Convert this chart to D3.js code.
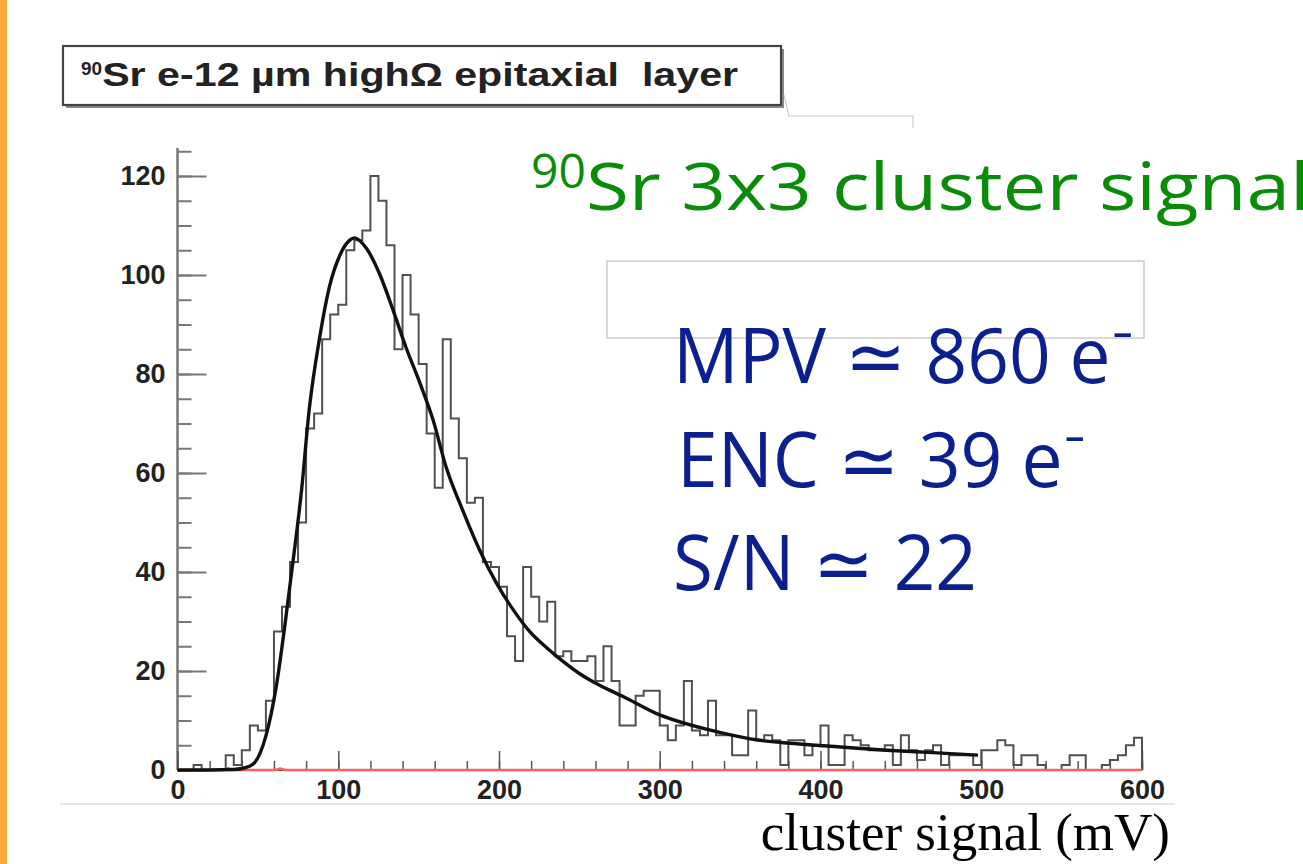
<!DOCTYPE html>
<html>
<head>
  <meta charset="utf-8">
  <style>
    body { margin: 0; background: #fff; }
    svg { display: block; }
    .tick text { font-family: "Liberation Sans", Arial, sans-serif; font-weight: bold; fill: #222; }
  </style>
</head>
<body>
  <script src="https://d3js.org/d3.v7.min.js"></script>
  <script>
    // cluster signal histogram, 5 mV bins from 0 to 600 mV (counts)
    const binWidth = 5;
    const counts = [
      0, 0, 1, 0, 0, 0, 3, 1, 4, 9,
      8, 14, 28, 33, 42, 50, 69, 72, 87, 92,
      94, 105, 107, 109, 120, 115, 106, 85, 100, 92,
      82, 68, 57, 87, 71, 63, 54, 55, 42, 41,
      37, 27, 22, 41, 35, 30, 34, 23, 24, 22,
      22, 23, 18, 25, 18, 9, 9, 15, 16, 16,
      9, 6, 9, 18, 8, 7, 14, 7, 7, 3,
      3, 12, 6, 7, 6, 1, 6, 6, 3, 5,
      9, 1, 1, 7, 6, 5, 4, 4, 5, 1,
      7, 4, 2, 4, 5, 1, 3, 3, 3, 1,
      4, 4, 6, 5, 1, 3, 3, 1, 0, 0,
      1, 3, 3, 0, 0, 1, 2, 3, 5, 6.5
    ];

    // fitted curve, points: [mV, counts]
    const fitPoints = [
      [0, 0], [20, 0], [35, 0.1], [40, 0.3], [47, 1.2], [55, 6.9], [61.5, 17],
      [66.7, 29], [71.8, 42], [77, 56], [82, 73], [88.5, 87.5], [94.5, 97.6],
      [101, 104], [107, 107], [110, 107.5], [117.5, 105.4], [126, 100], [134, 93],
      [142, 85.5], [151, 78], [159, 70.7], [167, 61.3], [178, 52], [188, 44.4],
      [198.5, 37.7], [209, 32.3], [219, 28], [230, 24.6], [240, 21.9], [250, 19.5],
      [262, 17.2], [277.5, 14.8], [298, 11.4], [319, 9.1], [340, 7.4], [360, 6.1],
      [381, 5.4], [402, 4.9], [423, 4.4], [441, 4.0], [470, 3.5], [498, 3.0]
    ];

    // second (red) function, flat at zero
    const redPoints = [[0, 0], [28, 0], [31, 0.4], [34, 0], [61, 0], [64, 0.3], [67, 0], [600, 0]];

    const xTicks = [0, 100, 200, 300, 400, 500, 600];
    const yTicks = [0, 20, 40, 60, 80, 100, 120];

    const w = 1303;
    const h = 864;

    const xScale = d3.scaleLinear().domain([0, 600]).range([177.5, 1142]);
    const yScale = d3.scaleLinear().domain([0, 120]).range([770, 176]);

    const svg = d3.select("body").append("svg")
      .attr("width", w)
      .attr("height", h);

    svg.append("rect").attr("width", w).attr("height", h).attr("fill", "#fff");

    // orange slide edge
    svg.append("rect").attr("x", 0).attr("y", 0).attr("width", 7).attr("height", h).attr("fill", "#f8ab3c");

    // title box with shadow
    svg.append("rect")
      .attr("x", 66).attr("y", 49).attr("width", 718).attr("height", 59)
      .attr("fill", "#888");
    svg.append("rect")
      .attr("x", 63).attr("y", 46).attr("width", 718).attr("height", 59)
      .attr("fill", "#fff").attr("stroke", "#444").attr("stroke-width", 2.2);
    const title = svg.append("text")
      .attr("x", 81).attr("y", 86)
      .style("font-family", "'Liberation Sans', Arial, sans-serif")
      .style("font-weight", "bold")
      .style("white-space", "pre")
      .attr("fill", "#222");
    title.append("tspan").attr("font-size", 19).attr("dy", -11).text("90");
    title.append("tspan").attr("font-size", 33).attr("dy", 11)
      .attr("textLength", 636).attr("lengthAdjust", "spacingAndGlyphs")
      .text("Sr e-12 \u00b5m high\u03a9 epitaxial  layer");

    // faint stats-box remnant
    svg.append("path")
      .attr("d", "M784,95 L789,116 L913,116 L913,128")
      .attr("fill", "none").attr("stroke", "#ccc").attr("stroke-width", 1.2);

    // grey line under axis labels
    svg.append("line")
      .attr("x1", 60).attr("x2", 1175).attr("y1", 804).attr("y2", 804)
      .attr("stroke", "#ddd").attr("stroke-width", 1.5);

    // y axis: minor ticks then major ticks, all inside
    const yMinor = d3.range(0, 126, 5);
    svg.append("g")
      .attr("transform", "translate(" + xScale(0) + ",0)")
      .call(d3.axisLeft(yScale).tickValues(yMinor).tickSizeInner(-14).tickSizeOuter(0).tickFormat(""))
      .call(g => g.select(".domain").remove())
      .selectAll("line").attr("stroke", "#777").attr("stroke-width", 2);

    const yAxis = svg.append("g")
      .attr("transform", "translate(" + xScale(0) + ",0)")
      .call(d3.axisLeft(yScale).tickValues(yTicks).tickSizeInner(-29).tickSizeOuter(0).tickPadding(12));
    yAxis.selectAll(".tick line").attr("stroke", "#777").attr("stroke-width", 2);
    yAxis.select(".domain").remove();
    yAxis.selectAll("text").attr("font-size", 27);
    svg.append("line")
      .attr("x1", xScale(0)).attr("x2", xScale(0))
      .attr("y1", yScale(0)).attr("y2", 148)
      .attr("stroke", "#777").attr("stroke-width", 2.5);

    // x axis: ticks pointing up
    const xMinor = d3.range(0, 601, 20);
    svg.append("g")
      .attr("transform", "translate(0," + yScale(0) + ")")
      .call(d3.axisBottom(xScale).tickValues(xMinor).tickSizeInner(-9).tickSizeOuter(0).tickFormat(""))
      .call(g => g.select(".domain").remove())
      .selectAll("line").attr("stroke", "#555").attr("stroke-width", 1.5);

    const xAxis = svg.append("g")
      .attr("transform", "translate(0," + yScale(0) + ")")
      .call(d3.axisBottom(xScale).tickValues(xTicks).tickSizeInner(-19).tickSizeOuter(0).tickPadding(10));
    xAxis.selectAll(".tick line").attr("stroke", "#555").attr("stroke-width", 1.5);
    xAxis.select(".domain").attr("stroke", "#555");
    xAxis.selectAll("text").attr("font-size", 27);

    // histogram outline
    const histPts = counts.map((c, i) => [i * binWidth, c]);
    histPts.push([600, counts[counts.length - 1]]);
    histPts.push([600, 0]);
    svg.append("path")
      .datum(histPts)
      .attr("fill", "none")
      .attr("stroke", "#505050")
      .attr("stroke-width", 2)
      .attr("d", d3.line().x(d => xScale(d[0])).y(d => yScale(d[1])).curve(d3.curveStepAfter));

    // red function along zero
    svg.append("path")
      .datum(redPoints)
      .attr("fill", "none")
      .attr("stroke", "#ff5f5f")
      .attr("stroke-width", 2.5)
      .attr("d", d3.line().x(d => xScale(d[0])).y(d => yScale(d[1])));

    // fit
    svg.append("path")
      .datum(fitPoints)
      .attr("fill", "none")
      .attr("stroke", "#111")
      .attr("stroke-width", 3.4)
      .attr("d", d3.line().x(d => xScale(d[0])).y(d => yScale(d[1])).curve(d3.curveMonotoneX));

    // x axis label
    svg.append("text")
      .attr("x", 1170).attr("y", 850)
      .attr("text-anchor", "end")
      .style("font-family", "'Liberation Serif', 'Times New Roman', serif")
      .attr("font-size", 53)
      .attr("fill", "#000")
      .text("cluster signal (mV)");

    // green heading
    const green = svg.append("text")
      .attr("x", 531).attr("y", 210)
      .style("font-family", "'Open Sans', Lato, sans-serif")
      .attr("fill", "#0a8c0a");
    green.append("tspan").attr("font-size", 48).attr("dy", -22).text("90");
    green.append("tspan").attr("font-size", 66).attr("dy", 22)
      .attr("textLength", 724).attr("lengthAdjust", "spacingAndGlyphs")
      .text("Sr 3x3 cluster signal");

    // empty grey box
    svg.append("rect")
      .attr("x", 607).attr("y", 261).attr("width", 537).attr("height", 77)
      .attr("fill", "none").attr("stroke", "#ccc").attr("stroke-width", 1.5);

    // blue results
    const blue = "#0b1f8e";
    const results = [
      { text: "MPV \u2243 860 e\u207b", x: 673, y: 383, len: 462 },
      { text: "ENC \u2243 39 e\u207b", x: 677, y: 487, len: 410 },
      { text: "S/N \u2243 22", x: 673, y: 590, len: 304 }
    ];
    results.forEach(r => {
      svg.append("text")
        .attr("x", r.x).attr("y", r.y)
        .style("font-family", "'Open Sans', Lato, sans-serif")
        .attr("font-size", 76)
        .attr("fill", blue)
        .attr("textLength", r.len).attr("lengthAdjust", "spacingAndGlyphs")
        .text(r.text);
    });
  </script>
</body>
</html>
